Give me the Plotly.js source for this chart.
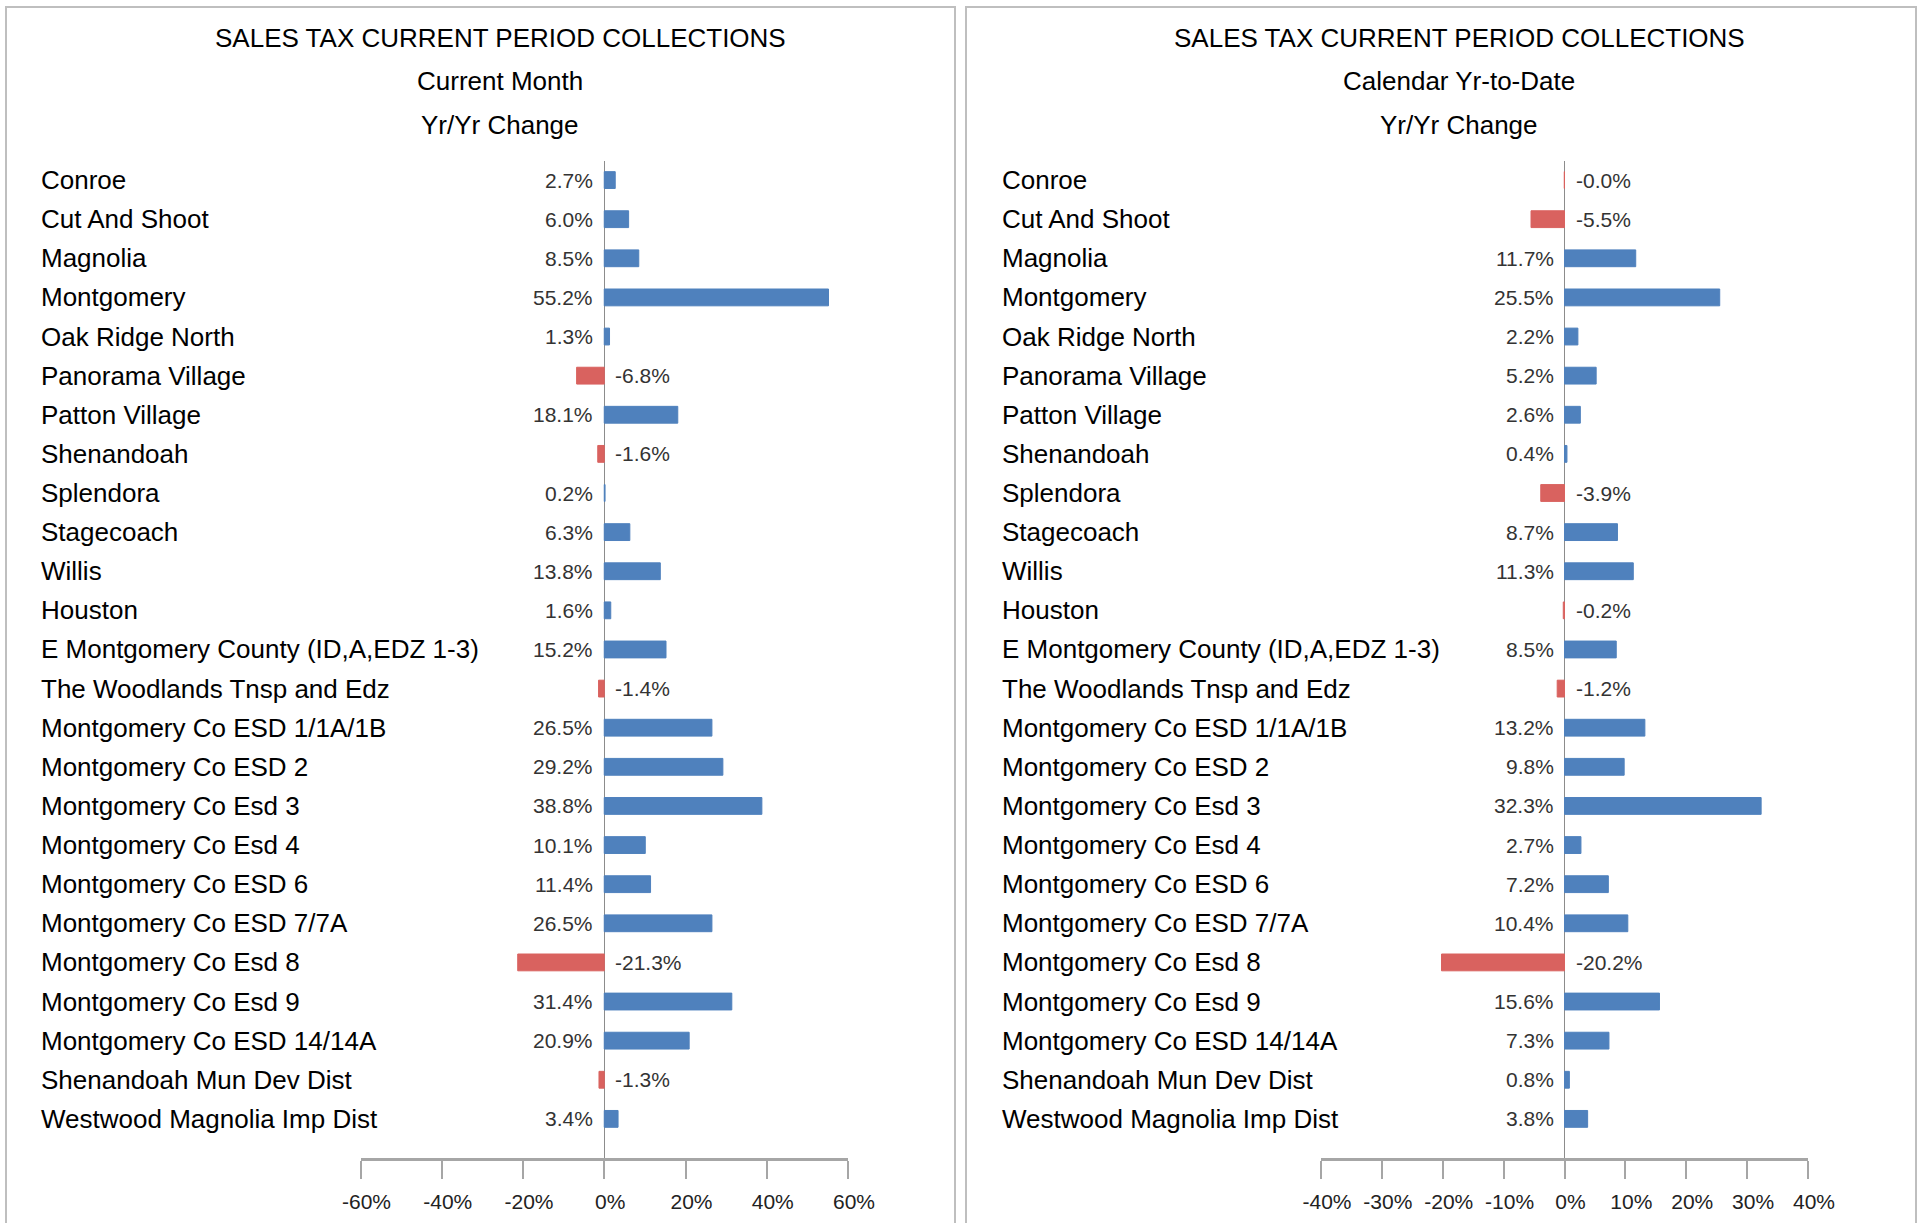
<!DOCTYPE html>
<html>
<head>
<meta charset="utf-8">
<script src="https://cdn.plot.ly/plotly-3.0.1.min.js"></script>
<style>html,body{margin:0;padding:0;background:#fff;}#chart{width:1923px;height:1223px;}</style>
</head>
<body>
<div id="chart"></div>
<script>
const categories = [
  "Conroe", "Cut And Shoot", "Magnolia", "Montgomery", "Oak Ridge North",
  "Panorama Village", "Patton Village", "Shenandoah", "Splendora", "Stagecoach",
  "Willis", "Houston", "E Montgomery County (ID,A,EDZ 1-3)", "The Woodlands Tnsp and Edz",
  "Montgomery Co ESD 1/1A/1B", "Montgomery Co ESD 2", "Montgomery Co Esd 3",
  "Montgomery Co Esd 4", "Montgomery Co ESD 6", "Montgomery Co ESD 7/7A",
  "Montgomery Co Esd 8", "Montgomery Co Esd 9", "Montgomery Co ESD 14/14A",
  "Shenandoah Mun Dev Dist", "Westwood Magnolia Imp Dist"
];
const currentMonth = [2.7, 6.0, 8.5, 55.2, 1.3, -6.8, 18.1, -1.6, 0.2, 6.3, 13.8, 1.6, 15.2, -1.4,
  26.5, 29.2, 38.8, 10.1, 11.4, 26.5, -21.3, 31.4, 20.9, -1.3, 3.4];
const yearToDate = [-0.04, -5.5, 11.7, 25.5, 2.2, 5.2, 2.6, 0.4, -3.9, 8.7, 11.3, -0.2, 8.5, -1.2,
  13.2, 9.8, 32.3, 2.7, 7.2, 10.4, -20.2, 15.6, 7.3, 0.8, 3.8];
const mainTitle = "SALES TAX CURRENT PERIOD COLLECTIONS";
const subTitles = ["Current Month", "Calendar Yr-to-Date"];
const changeTitle = "Yr/Yr Change";
const leftTicks = [-60, -40, -20, 0, 20, 40, 60];
const rightTicks = [-40, -30, -20, -10, 0, 10, 20, 30, 40];

const W = 1923, H = 1223;
const FONT = '"Liberation Sans", Arial, Helvetica, sans-serif';
const BLUE = '#4F81BD', RED = '#D9625F';
const fmt = v => v.toFixed(1) + '%';
const colorsFor = vals => vals.map(v => v < 0 ? RED : BLUE);

function barTrace(vals, xa, ya) {
  return {
    type: 'bar', orientation: 'h', x: vals, y: categories,
    xaxis: xa, yaxis: ya, width: 0.43,
    marker: {color: colorsFor(vals), line: {color: colorsFor(vals), width: 1}},
    hoverinfo: 'x+y', showlegend: false
  };
}

const annotations = [];
function addPanel(vals, xref, yref, labelX, titleX, subtitle) {
  categories.forEach((c, i) => {
    annotations.push({
      xref: 'paper', yref: yref, x: labelX / W, y: c, xanchor: 'left', yanchor: 'middle',
      text: c, showarrow: false, font: {family: FONT, size: 26, color: '#000'}
    });
    const v = vals[i];
    annotations.push({
      xref: xref, yref: yref, x: 0, y: c,
      xanchor: v < 0 ? 'left' : 'right', yanchor: 'middle',
      xshift: v < 0 ? 9 : -9,
      text: fmt(v), showarrow: false, font: {family: FONT, size: 21, color: '#333'}
    });
  });
  [mainTitle, subtitle, changeTitle].forEach((t, k) => {
    annotations.push({
      xref: 'paper', yref: 'paper', x: titleX / W, y: 1 - [38, 81, 125][k] / H,
      xanchor: 'center', yanchor: 'middle', text: t, showarrow: false,
      font: {family: FONT, size: 26, color: '#000'}
    });
  });
}
addPanel(currentMonth, 'x', 'y', 39, 500, subTitles[0]);
addPanel(yearToDate, 'x2', 'y2', 1000, 1459, subTitles[1]);

const yDom = [1 - 1158 / H, 1 - 160.5 / H];
function xAxis(domain, ticks, range) {
  return {
    domain: domain, range: range, tickvals: ticks, ticktext: ticks.map(t => t + '%'),
    showgrid: false, zeroline: true, zerolinecolor: '#8c8c8c', zerolinewidth: 1.2,
    showline: true, linecolor: '#A6A6A6', linewidth: 3,
    ticks: 'outside', ticklen: 18, tickwidth: 2, tickcolor: '#A6A6A6',
    ticklabelstandoff: 5, ticklabelshift: 6,
    tickfont: {family: FONT, size: 21, color: '#222'}, fixedrange: true
  };
}
function yAxis(anchor) {
  return {
    domain: yDom, type: 'category', range: [25.0, -0.5], anchor: anchor,
    showgrid: false, zeroline: false, showline: false, showticklabels: false, ticks: '',
    fixedrange: true
  };
}

const layout = {
  width: W, height: H, margin: {l: 0, r: 0, t: 0, b: 0},
  paper_bgcolor: '#fff', plot_bgcolor: 'rgba(0,0,0,0)',
  xaxis: Object.assign(xAxis([360.5 / W, 848 / W], leftTicks, [-60, 60]), {anchor: 'y'}),
  yaxis: yAxis('x'),
  xaxis2: Object.assign(xAxis([1321 / W, 1808 / W], rightTicks, [-40, 40]), {anchor: 'y2'}),
  yaxis2: yAxis('x2'),
  bargap: 0.57,
  annotations: annotations,
  shapes: [
    {type: 'rect', xref: 'paper', yref: 'paper', x0: 6 / W, x1: 955 / W, y0: -0.05, y1: 1 - 7 / H,
     line: {color: '#BFBFBF', width: 2}},
    {type: 'rect', xref: 'paper', yref: 'paper', x0: 966 / W, x1: 1916 / W, y0: -0.05, y1: 1 - 7 / H,
     line: {color: '#BFBFBF', width: 2}}
  ]
};

Plotly.newPlot('chart', [barTrace(currentMonth, 'x', 'y'), barTrace(yearToDate, 'x2', 'y2')], layout,
  {staticPlot: true, displayModeBar: false});
</script>
</body>
</html>
